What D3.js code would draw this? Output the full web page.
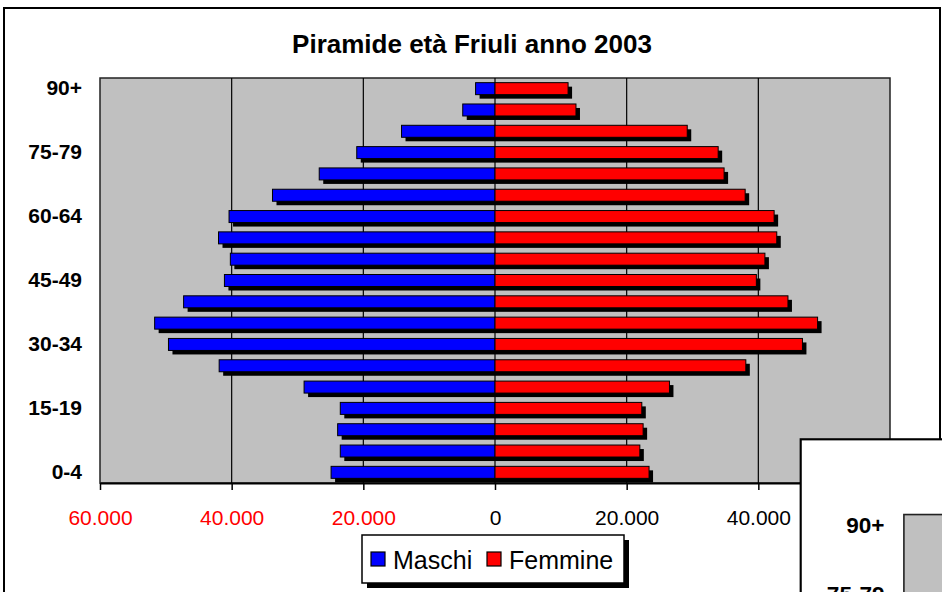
<html>
<head>
<meta charset="utf-8">
<script src="https://d3js.org/d3.v7.min.js"></script>
<style>
  body { margin: 0; background: #fff; }
  text { font-family: "Liberation Sans", Arial, sans-serif; }
</style>
</head>
<body>
<script>
    // age classes, bottom (0-4) to top (90+)
    let ages = ["0-4","5-9","10-14","15-19","20-24","25-29","30-34","35-39","40-44",
                "45-49","50-54","55-59","60-64","65-69","70-74","75-79","80-84","85-89","90+"];
    let maschi  = [24900,23500,23900,23500,29000,41900,49600,51700,47300,
                   41100,40200,42000,40400,33800,26700,21000,14200,4900,2950];
    let femmine = [23400,22000,22500,22300,26500,38100,46700,49000,44500,
                   39700,41000,42800,42400,38000,34800,33900,29200,12300,11100];
    let xTicks = [-60000,-40000,-20000,0,20000,40000,60000];
    let shownAges = ["0-4","15-19","30-34","45-49","60-64","75-79","90+"];
    let seriesNames = ["Maschi","Femmine"];
    let colors = ["#0000ff","#ff0000"];

    let W = 942, H = 592;
    let plot = {left:100, top:78, right:890, bottom:483};

    let svg = d3.select("body").append("svg")
        .attr("width", W)
        .attr("height", H);

    let it = d3.formatLocale({decimal:",", thousands:".", grouping:[3], currency:["","€"]});
    let fmt = it.format(",");

    let x = d3.scaleLinear()
        .domain([-60000,60000])
        .range([plot.left, plot.right]);

    let y = d3.scaleBand()
        .domain(ages.slice().reverse())
        .range([plot.top, plot.bottom]);

    let barH = 12, shadow = 4;

    function drawChart(g){
        //frame
        g.append("rect")
            .attr("x",4).attr("y",8)
            .attr("width",936).attr("height",640)
            .attr("fill","#fff")
            .attr("stroke","#000")
            .attr("stroke-width",2);

        //title
        g.append("text")
            .attr("x",472).attr("y",53)
            .attr("text-anchor","middle")
            .style("font-size","26px")
            .style("font-weight","bold")
            .text("Piramide età Friuli anno 2003");

        //plot area
        g.append("rect")
            .attr("x",plot.left).attr("y",plot.top)
            .attr("width",plot.right-plot.left)
            .attr("height",plot.bottom-plot.top)
            .attr("fill","#c0c0c0")
            .attr("stroke","#222")
            .attr("stroke-width",1.5);

        //gridlines
        xTicks.slice(1,-1).forEach(t=>
            g.append("line")
            .attr("x1",x(t)).attr("x2",x(t))
            .attr("y1",plot.top).attr("y2",plot.bottom)
            .attr("stroke","#000")
            .attr("stroke-width",1.2)
        );

        let rows = ages.map((a,i)=>({age:a, m:maschi[i], f:femmine[i]}));

        //shadows first
        rows.forEach(d=>{
            let yy = y(d.age) + (y.bandwidth()-barH)/2;
            g.append("rect")
                .attr("x",x(-d.m)+shadow).attr("y",yy+shadow)
                .attr("width",x(0)-x(-d.m)).attr("height",barH)
                .attr("fill","#000");
            g.append("rect")
                .attr("x",x(0)+shadow).attr("y",yy+shadow)
                .attr("width",x(d.f)-x(0)).attr("height",barH)
                .attr("fill","#000");
        });

        //bars
        rows.forEach(d=>{
            let yy = y(d.age) + (y.bandwidth()-barH)/2;
            g.append("rect")
                .attr("x",x(-d.m)).attr("y",yy)
                .attr("width",x(0)-x(-d.m)).attr("height",barH)
                .attr("fill",colors[0])
                .attr("stroke","#000").attr("stroke-width",1);
            g.append("rect")
                .attr("x",x(0)).attr("y",yy)
                .attr("width",x(d.f)-x(0)).attr("height",barH)
                .attr("fill",colors[1])
                .attr("stroke","#000").attr("stroke-width",1);
        });

        //x axis
        let xAxis = g.append("g")
            .attr("transform","translate(0,"+plot.bottom+")")
            .call(d3.axisBottom(x)
                .tickValues(xTicks)
                .tickSize(7)
                .tickSizeOuter(0)
                .tickPadding(20)
                .tickFormat(d=>fmt(Math.abs(d))));
        xAxis.select(".domain").attr("stroke","#000").attr("stroke-width",2);
        xAxis.selectAll(".tick line").attr("stroke","#000").attr("stroke-width",1.5);
        xAxis.selectAll(".tick text")
            .style("font-size","21px")
            .style("font-family","'Liberation Sans', Arial, sans-serif")
            .attr("fill",d=> d<0 ? "#ff0000" : "#000");

        //y axis labels
        let yAxis = g.append("g")
            .attr("transform","translate("+plot.left+",0)")
            .call(d3.axisLeft(y)
                .tickValues(shownAges)
                .tickSize(0)
                .tickPadding(18));
        yAxis.select(".domain").remove();
        yAxis.selectAll(".tick text")
            .style("font-size","21px")
            .style("font-weight","bold")
            .style("font-family","'Liberation Sans', Arial, sans-serif")
            .attr("fill","#000");

        //legend
        let lg = g.append("g");
        lg.append("rect")
            .attr("x",367).attr("y",540)
            .attr("width",262).attr("height",48)
            .attr("fill","#000");
        lg.append("rect")
            .attr("x",362).attr("y",535)
            .attr("width",262).attr("height",48)
            .attr("fill","#fff")
            .attr("stroke","#000")
            .attr("stroke-width",1.5);
        let lx = [371,487];
        seriesNames.forEach((s,i)=>{
            lg.append("rect")
                .attr("x",lx[i]).attr("y",552)
                .attr("width",14).attr("height",14)
                .attr("fill",colors[i])
                .attr("stroke","#000").attr("stroke-width",1.2);
            lg.append("text")
                .attr("x",lx[i]+22).attr("y",569)
                .style("font-size","25px")
                .text(s);
        });
    }

    drawChart(svg.append("g"));

    // second copy of the chart pasted over the bottom right corner
    drawChart(svg.append("g")
        .attr("transform","translate(796.4,430.7) scale(1.075)"));
</script>
</body>
</html>
